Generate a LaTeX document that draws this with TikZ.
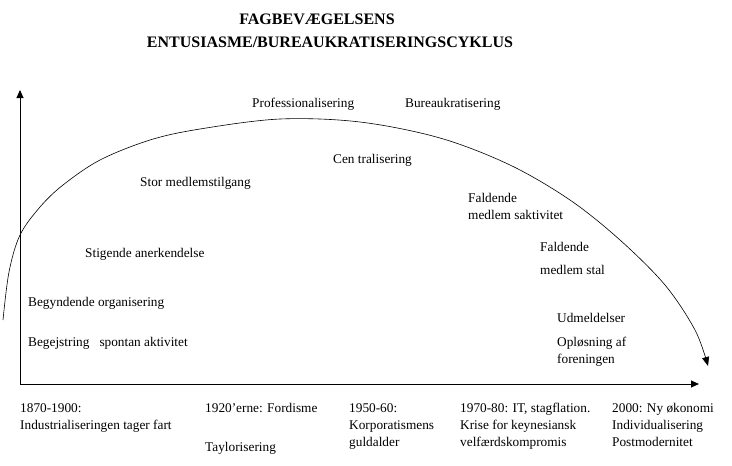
\documentclass[tikz,border=0pt]{standalone}
\usepackage{fontspec}
\setmainfont{Liberation Serif}
\usetikzlibrary{arrows.meta}

\begin{document}
\begin{tikzpicture}[
  x=1pt, y=-1pt,
  font=\fontsize{13.3}{17}\selectfont,
  axis/.style={line width=0.9pt, -{Triangle[length=8pt,width=7pt]}},
  cycle/.style={line width=0.6pt, -{Triangle[length=9pt,width=7pt]}},
  phase/.style={inner sep=0pt, anchor=base west, align=left},
  era/.style={phase},
  headline/.style={inner sep=0pt, anchor=base, font=\fontsize{16}{20}\selectfont\bfseries}
]
\useasboundingbox (0,0) rectangle (732,466);

% ---- title ------------------------------------------------------------------
\node[headline] (title1) at (317,24) {FAGBEVÆGELSENS};
\node[headline] (title2) at (330,47) {ENTUSIASME/BUREAUKRATISERINGSCYKLUS};

% ---- axes -------------------------------------------------------------------
\coordinate (origin) at (20,384);
\coordinate (ytip)   at (20,90);
\coordinate (xtip)   at (699,384);
\draw[axis] (origin) -- (ytip);
\draw[axis] (origin) -- (xtip);

% ---- the cycle --------------------------------------------------------------
\draw[cycle] plot[smooth, tension=0.55] coordinates {
  (3,320) (9,272) (20,235) (40,207) (63,185) (100,160) (150,140) (200,129)
  (280,119) (360,122) (440,138) (510,165) (570,200) (620,240) (665,285)
  (695,330) (708,366)};

% ---- phases (base = baseline of the last line) ------------------------------
\node[phase] (begejst) at (28,346)  {Begejstring \ \ spontan aktivitet};
\node[phase] (begynd)  at (28,306)  {Begyndende organisering};
\node[phase] (stig)    at (85,257)  {Stigende anerkendelse};
\node[phase] (stor)    at (140,186) {Stor medlemstilgang};
\node[phase] (prof)    at (252,107) {Professionalisering};
\node[phase] (bureau)  at (405,107) {Bureaukratisering};
\node[phase] (central) at (333,163) {Cen tralisering};
\node[phase] (aktiv)   at (468,219) {Faldende\\medlem saktivitet};
\node[phase] (medtal)  at (540,274) {Faldende\\[6pt]medlem stal};
\node[phase] (udmeld)  at (557,322) {Udmeldelser};
\node[phase] (oploes)  at (557,363) {Opløsning af\\foreningen};

% ---- periods ----------------------------------------------------------------
\node[era] (p1870) at (20,429)  {1870-1900:\\Industrialiseringen tager fart};
\node[era] (p1920) at (205,451) {1920’erne: Fordisme\\[22pt]Taylorisering};
\node[era] (p1950) at (349,446) {1950-60:\\Korporatismens\\guldalder};
\node[era] (p1970) at (460,446) {1970-80: IT, stagflation.\\Krise for keynesiansk\\velfærdskompromis};
\node[era] (p2000) at (612,446) {2000: Ny økonomi\\Individualisering\\Postmodernitet};

\end{tikzpicture}
\end{document}
